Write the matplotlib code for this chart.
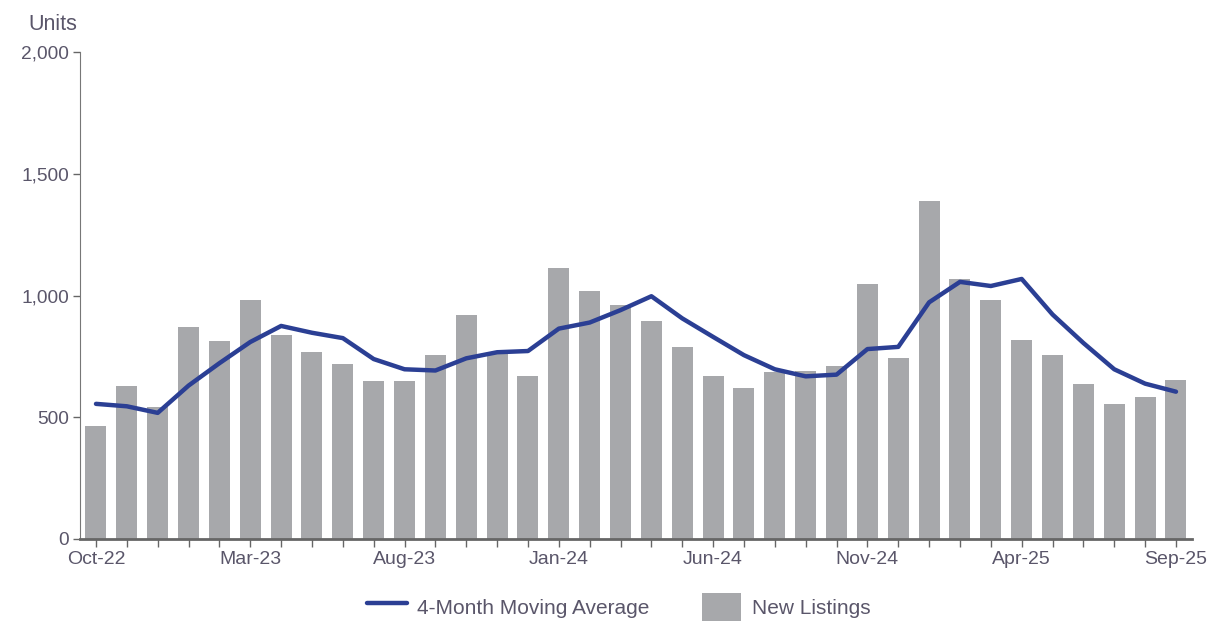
import matplotlib
matplotlib.use("Agg")
import matplotlib.pyplot as plt
from matplotlib.ticker import FuncFormatter, MultipleLocator

months = ["Oct-22", "Nov-22", "Dec-22", "Jan-23", "Feb-23", "Mar-23", "Apr-23", "May-23", "Jun-23",
          "Jul-23", "Aug-23", "Sep-23", "Oct-23", "Nov-23", "Dec-23", "Jan-24", "Feb-24", "Mar-24",
          "Apr-24", "May-24", "Jun-24", "Jul-24", "Aug-24", "Sep-24", "Oct-24", "Nov-24", "Dec-24",
          "Jan-25", "Feb-25", "Mar-25", "Apr-25", "May-25", "Jun-25", "Jul-25", "Aug-25", "Sep-25"]

new_listings = [463, 627, 541, 872, 814, 982, 839, 770, 720, 648, 648, 755, 919, 760, 670,
                1111, 1018, 962, 897, 789, 670, 620, 685, 688, 710, 1048, 742, 1390, 1068,
                982, 819, 755, 635, 555, 585, 655]

moving_avg = [555, 545, 518, 630, 722, 809, 875, 847, 825, 739, 697, 692, 742, 767, 772,
              864, 889, 940, 997, 906, 830, 755, 697, 668, 675, 780, 789, 972, 1056, 1039,
              1068, 922, 805, 697, 638, 605]

label_every = 5

bar_color = "#A7A8AB"
line_color = "#2B3F94"
text_color = "#5a566a"
axis_color = "#666666"

plt.rcParams["font.family"] = ["Liberation Sans", "DejaVu Sans"]

fig = plt.figure(figsize=(12.28, 6.39), dpi=100)
ax = fig.add_axes([0.0651, 0.1565, 0.9056, 0.7621])

x = list(range(len(months)))
bars = ax.bar(x, new_listings, width=0.68, color=bar_color, label="New Listings", zorder=2)
line, = ax.plot(x, moving_avg, color=line_color, lw=3.2, solid_joinstyle="round",
                solid_capstyle="round", label="4-Month Moving Average", zorder=3)

ax.set_xlim(-0.52, 35.52)
ax.set_ylim(0, 2000)
ax.yaxis.set_major_locator(MultipleLocator(500))
ax.yaxis.set_major_formatter(FuncFormatter(lambda v, p: f"{int(v):,}"))

ax.set_xticks(x, minor=True)
ax.set_xticks(x[::label_every])
ax.set_xticklabels([months[i] for i in x[::label_every]])
ax.tick_params(axis="x", which="both", direction="out", length=6, color="#666666", width=1,
               labelsize=14, labelcolor=text_color, pad=3)
ax.tick_params(axis="y", direction="out", length=5, color="#666666", width=1,
               labelsize=13.8, labelcolor=text_color, pad=3)

for side in ["top", "right"]:
    ax.spines[side].set_visible(False)
ax.spines["left"].set_color("#777777")
ax.spines["bottom"].set_color(axis_color)
ax.spines["bottom"].set_linewidth(2)

fig.text(0.023, 0.962, "Units", fontsize=15.5, color=text_color, ha="left", va="center")

fig.legend(handles=[line, bars], loc="center", bbox_to_anchor=(0.504, 0.05), ncol=2,
           frameon=False, fontsize=15, labelcolor=text_color, handlelength=1.9,
           handleheight=1.7, columnspacing=2.5, handletextpad=0.5)

fig.savefig("out.png", dpi=100, facecolor="white")
